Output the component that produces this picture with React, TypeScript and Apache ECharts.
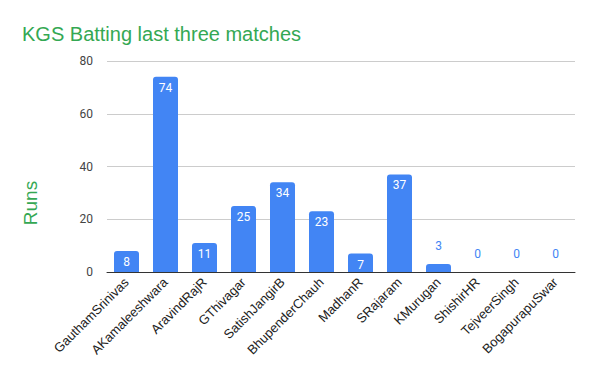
import React, { useEffect, useRef } from "react";
import * as echarts from "echarts";

const players = [
  "GauthamSrinivas",
  "AKamaleeshwara",
  "AravindRajR",
  "GThivagar",
  "SatishJangirB",
  "BhupenderChauh",
  "MadhanR",
  "SRajaram",
  "KMurugan",
  "ShishirHR",
  "TejveerSingh",
  "BogapurapuSwar",
];
const runs = [8, 74, 11, 25, 34, 23, 7, 37, 3, 0, 0, 0];
const yTicks = [0, 20, 40, 60, 80];

export default function App() {
  const ref = useRef<HTMLDivElement>(null);
  useEffect(() => {
    if (!ref.current) return;
    const chart = echarts.init(ref.current, undefined, { renderer: "svg" });
    const font = "Roboto, Arial, sans-serif";
    const arial = "Arial, 'Liberation Sans', sans-serif";
    chart.setOption({
      animation: false,
      textStyle: { fontFamily: font },
      title: {
        text: "KGS Batting last three matches",
        left: 17,
        top: 19,
        textStyle: { color: "#34a853", fontSize: 20, fontWeight: "normal", fontFamily: arial },
      },
      graphic: [
        {
          type: "text",
          x: 30,
          y: 203,
          rotation: Math.PI / 2,
          style: {
            text: "Runs",
            fill: "#34a853",
            fontSize: 19,
            fontFamily: arial,
            align: "center",
            verticalAlign: "middle",
          },
        },
      ],
      grid: { left: 107, right: 25, top: 61, bottom: 99 },
      xAxis: {
        type: "category",
        data: players,
        axisTick: { show: false },
        axisLine: { lineStyle: { color: "#333", width: 1 } },
        axisLabel: {
          rotate: 45,
          color: "#222",
          fontSize: 13,
          margin: 8,
          padding: [16, 0, 0, 0],
          interval: 0,
          fontFamily: arial,
        },
      },
      yAxis: {
        type: "value",
        min: yTicks[0],
        max: yTicks[yTicks.length - 1],
        interval: 20,
        axisLine: { show: false },
        axisTick: { show: false },
        axisLabel: { color: "#444", fontSize: 12, margin: 14, fontFamily: font },
        splitLine: { lineStyle: { color: "#ccc" } },
      },
      series: [
        {
          type: "bar",
          data: runs.map((v) => ({
            value: v,
            label:
              v < 5
                ? { show: true, position: "top", distance: 12, color: "#4285f4" }
                : { show: true, position: "insideTop", distance: 5, color: "#fff" },
          })),
          barWidth: 25,
          itemStyle: { color: "#4285f4", borderRadius: [3, 3, 0, 0] },
          label: { fontSize: 12, fontFamily: font },
        },
      ],
    });
    return () => chart.dispose();
  }, []);
  return <div ref={ref} style={{ width: 600, height: 371, margin: -8 }} />;
}
